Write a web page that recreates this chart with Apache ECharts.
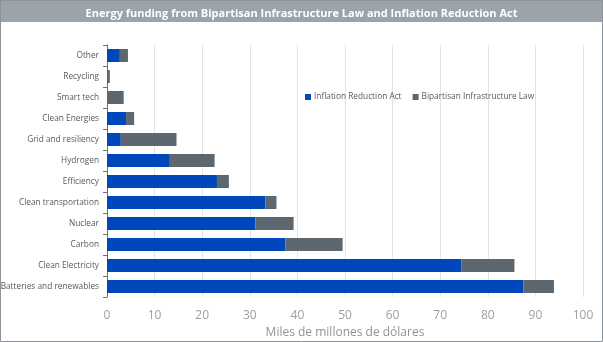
<!DOCTYPE html>
<html>
<head>
<meta charset="utf-8">
<script src="https://cdn.jsdelivr.net/npm/echarts@6/dist/echarts.min.js"></script>
<style>
html,body{margin:0;padding:0;background:#fff;}
#c{width:603px;height:342px;}
</style>
</head>
<body>
<div id="c"></div>
<script>
const categories = ["Other","Recycling","Smart tech","Clean Energies","Grid and resiliency","Hydrogen","Efficiency","Clean transportation","Nuclear","Carbon","Clean Electricity","Batteries and renewables"];
const iraValues = [2.7, 0, 0, 4.0, 2.9, 13.2, 23.1, 33.3, 31.2, 37.5, 74.5, 87.5];
const bilValues = [1.7, 0.6, 3.5, 1.7, 11.7, 9.4, 2.5, 2.3, 8.0, 12.0, 11.1, 6.4];
const xTicks = {min: 0, max: 100, interval: 10};

const chart = echarts.init(document.getElementById('c'), null, {renderer: 'canvas'});
chart.setOption({
  animation: false,
  backgroundColor: '#ffffff',
  title: {
    text: 'Energy funding from Bipartisan Infrastructure Law and Inflation Reduction Act',
    left: 'center', top: 3,
    textStyle: {color: '#ffffff', fontSize: 11, fontWeight: 'bold', fontFamily: 'Open Sans'}
  },
  graphic: [
    {type: 'rect', z: -1, silent: true, shape: {x: 0, y: 0, width: 603, height: 22}, style: {fill: '#9da3aa'}},
    {type: 'rect', z: 100, silent: true, shape: {x: 0.5, y: 0.5, width: 602, height: 341}, style: {fill: 'none', stroke: '#8c939a', lineWidth: 1}}
  ],
  legend: {
    data: ['Inflation Reduction Act', 'Bipartisan Infrastructure Law'],
    left: 300, top: 88,
    itemWidth: 6, itemHeight: 6, itemGap: 11,
    icon: 'rect',
    textStyle: {fontSize: 8.3, color: '#595959', fontFamily: 'Open Sans', padding: [0, 0, 0, -2]}
  },
  grid: {left: 107, right: 20, top: 45, bottom: 45, containLabel: false, outerBoundsMode: 'none'},
  xAxis: {
    type: 'value', min: xTicks.min, max: xTicks.max, interval: xTicks.interval,
    name: 'Miles de millones de dólares', nameLocation: 'middle', nameGap: 29,
    nameTextStyle: {color: '#8f959c', fontSize: 12, fontFamily: 'Open Sans'},
    axisLine: {show: false},
    axisTick: {show: false},
    axisLabel: {color: '#9aa0a6', fontSize: 12, margin: 13, fontFamily: 'Open Sans'},
    splitLine: {show: true, lineStyle: {color: '#e3e3e3', width: 1}}
  },
  yAxis: {
    type: 'category', data: categories, inverse: true,
    axisLine: {show: true, lineStyle: {color: '#6a737b', width: 1}},
    axisTick: {show: true, length: 4, lineStyle: {color: '#6a737b'}},
    axisLabel: {color: '#595959', fontSize: 8.3, margin: 8, fontFamily: 'Open Sans'}
  },
  series: [
    {name: 'Inflation Reduction Act', type: 'bar', stack: 'total', data: iraValues,
     barCategoryGap: '38%', itemStyle: {color: '#0047bb'}},
    {name: 'Bipartisan Infrastructure Law', type: 'bar', stack: 'total', data: bilValues,
     barCategoryGap: '38%', itemStyle: {color: '#5c6770'}}
  ]
});
</script>
</body>
</html>
